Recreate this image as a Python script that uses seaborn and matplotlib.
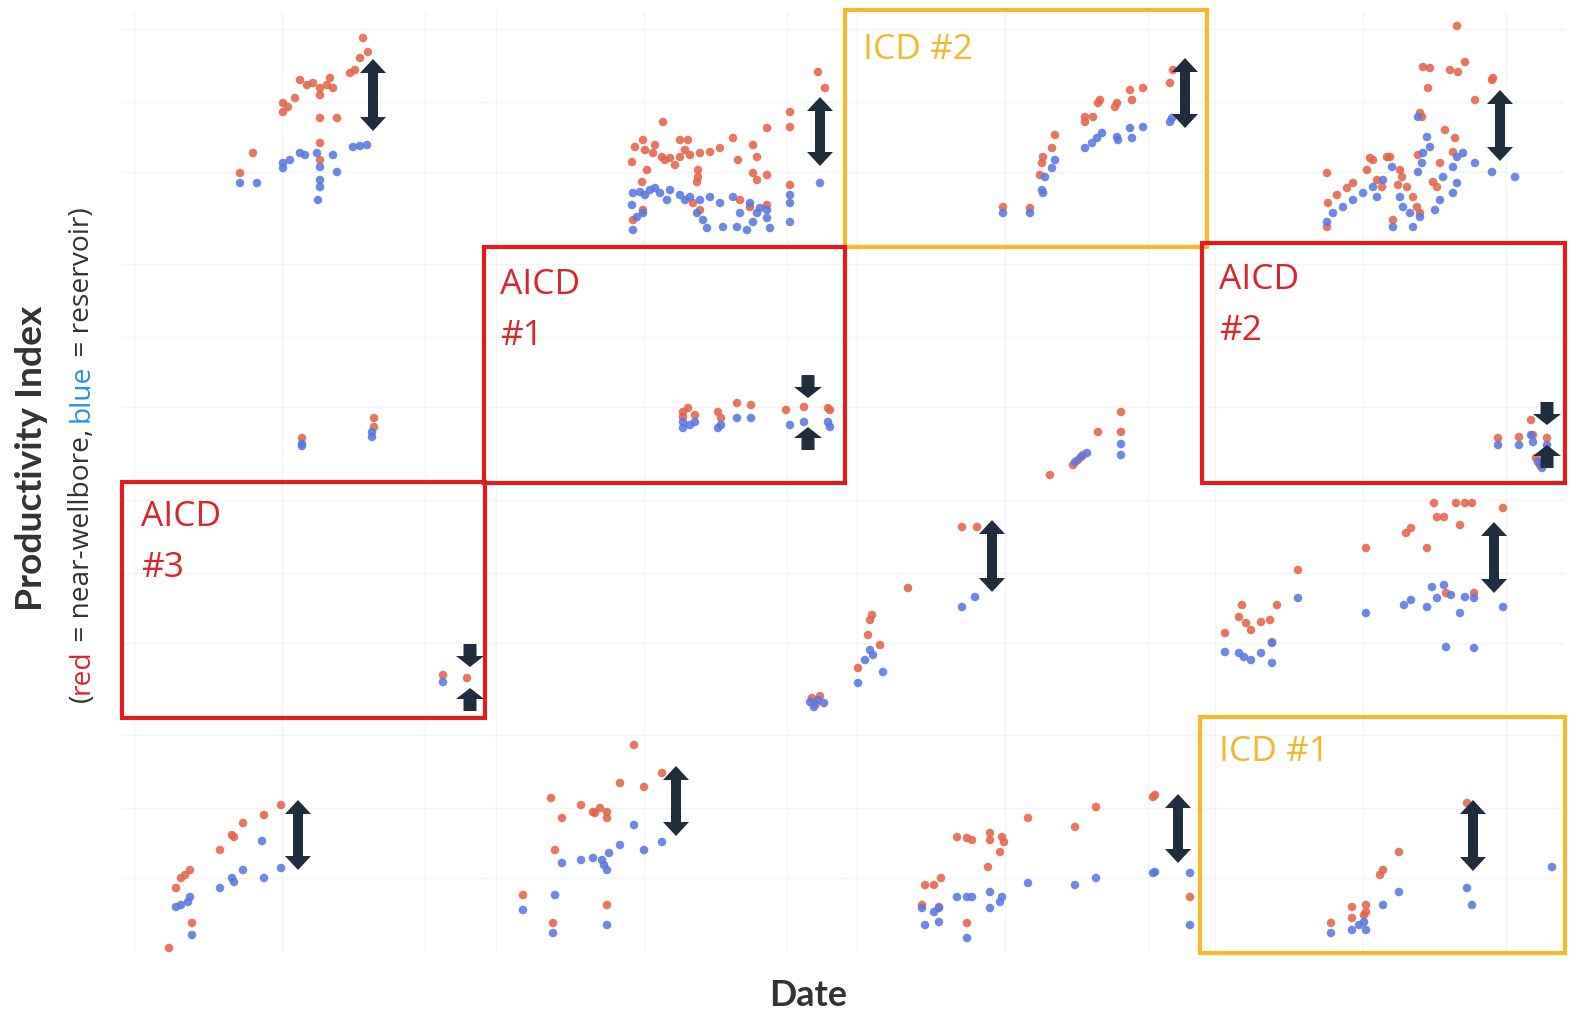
import matplotlib
matplotlib.use("Agg")
import matplotlib.pyplot as plt
from matplotlib.patches import Polygon, Rectangle
import pandas as pd
import seaborn as sns

# ---- measured productivity index per well (x = date index, y = PI units) ----
# row 0
P00_RED = [(241,209),(246,195),(238,189),(233,177),(228,174),(178,167),(191,164),(198,159),(208,169),
           (211,159),(161,144),(173,149),(161,135),(198,152),(198,129),(215,129),(198,104),(131,94),
           (118,74),(198,87),(166,140),(185,162),(205,162)]
P00_BLUE = [(118,64),(135,64),(161,84),(178,94),(195,94),(211,92),(198,80),(198,67),(198,60),(196,47),
            (215,75),(231,100),(245,102),(161,79),(168,87),(183,92),(238,101)]
P01_RED = [(334,175),(341,159),(306,135),(306,120),(283,119),(249,109),(269,102),(236,99),(273,90),
           (254,87),(179,125),(196,107),(204,107),(159,107),(151,100),(148,85),(169,94),(178,90),
           (186,89),(196,90),(206,92),(216,94),(226,95),(163,77),(214,77),(214,70),(213,65),(269,74),
           (273,67),(283,72),(158,65),(306,62),(209,44),(216,37),(256,47),(266,40),(283,42),(149,27),
           (159,37),(161,97),(171,102),(181,87),(191,82),(201,97)]
P01_BLUE = [(336,64),(306,52),(306,44),(306,25),(283,37),(283,29),(286,19),(149,54),(156,55),(166,57),
            (176,54),(183,47),(196,52),(206,50),(216,47),(226,50),(148,42),(153,30),(159,34),(149,17),
            (213,34),(219,27),(223,19),(236,44),(249,50),(239,20),(253,20),(263,17),(269,25),(273,34),
            (276,39),(256,34),(266,44),(161,52),(171,59),(186,57),(201,47)]
P02_RED = [(328,177),(325,164),(298,159),(285,157),(287,147),(272,144),(270,140),(255,147),(253,144),
           (248,130),(240,130),(240,125),(210,112),(207,99),(198,90),(197,84),(195,72),(158,40),(185,39)]
P02_BLUE = [(327,129),(325,125),(298,120),(285,119),(287,109),(272,110),(273,107),(257,114),(252,109),
            (247,104),(240,99),(210,87),(207,79),(200,70),(197,57),(198,54),(158,34),(185,34)]
P03_RED = [(254,221),(262,185),(255,175),(247,177),(220,180),(227,179),(225,159),(289,167),(290,169),
           (272,147),(217,134),(219,130),(242,117),(252,109),(215,92),(250,95),(237,84),(124,74),
           (167,89),(170,87),(184,90),(187,90),(164,77),(150,64),(144,59),(134,52),(125,44),(197,77),
           (199,70),(195,62),(204,60),(210,50),(214,40),(217,34),(190,27),(124,20),(230,65),(234,60),
           (174,67),(179,60)]
P03_BLUE = [(312,70),(289,75),(272,84),(260,94),(254,90),(250,80),(224,110),(227,100),(220,94),(219,84),
            (215,75),(215,130),(254,64),(250,54),(240,70),(237,47),(232,37),(189,80),(180,67),(170,60),
            (160,54),(150,47),(140,40),(130,34),(124,25),(197,50),(200,40),(207,34),(210,20),(190,20),
            (217,30),(174,50)]
# row 1
P10_RED = [(180,44),(252,64),(252,55)]
P10_BLUE = [(180,36),(180,38),(250,50),(250,45)]
P11_RED = [(199,70),(204,74),(211,67),(234,70),(237,64),(253,79),(267,77),(302,72),(320,75),(344,74),
           (346,72),(199,65)]
P11_BLUE = [(199,54),(206,57),(211,60),(234,54),(237,57),(253,64),(267,64),(306,57),(320,60),(344,60),
            (346,55),(199,60)]
P12_RED = [(205,7),(228,17),(233,22),(238,27),(253,50),(276,70),(276,50)]
P12_BLUE = [(230,20),(236,25),(242,29),(276,38),(276,27)]
P13_RED = [(328,62),(295,44),(316,45),(330,47),(344,44),(333,24),(337,17)]
P13_BLUE = [(295,37),(316,37),(328,47),(330,40),(344,37),(339,14),(335,20)]
# row 2
P20_RED = [(321,43),(345,40)]
P20_BLUE = [(321,36)]
P21_RED = [(328,20),(336,22),(332,14)]
P21_BLUE = [(326,16),(334,18),(340,15),(330,11)]
P22_RED = [(117,191),(132,191),(63,130),(27,103),(25,98),(23,83),(35,73),(13,50)]
P22_BLUE = [(117,111),(130,121),(25,68),(20,58),(38,46),(13,35),(28,63)]
P23_RED = [(231,215),(253,215),(262,215),(269,215),(300,210),(234,201),(241,201),(257,193),(203,185),
           (208,190),(224,170),(163,170),(95,148),(39,113),(22,85),(36,101),(43,95),(48,88),(58,96),
           (67,98),(74,113),(69,76),(243,125),(271,125)]
P23_BLUE = [(95,120),(163,105),(201,113),(208,118),(224,111),(229,131),(241,133),(234,120),(248,123),
            (262,121),(271,120),(257,105),(300,111),(243,71),(271,70),(22,66),(36,65),(41,61),(48,58),
            (58,65),(69,55),(69,75)]
# row 3
P30_RED = [(159,148),(142,138),(121,130),(112,116),(110,118),(98,103),(68,83),(63,78),(59,75),(54,65),
           (70,30),(47,5)]
P30_BLUE = [(159,85),(142,75),(140,112),(121,83),(112,71),(110,75),(98,65),(68,56),(66,51),(59,48),
            (54,46),(70,18)]
P31_RED = [(150,208),(178,180),(136,170),(160,166),(67,155),(97,148),(109,141),(116,145),(123,141),
           (123,135),(111,140),(78,135),(71,103),(39,58),(69,30),(123,48)]
P31_BLUE = [(150,128),(178,111),(136,108),(160,103),(125,100),(118,93),(120,88),(123,83),(109,95),
            (97,93),(78,90),(71,58),(39,43),(69,20),(123,28)]
P32_RED = [(310,158),(308,156),(251,146),(230,126),(183,135),(112,116),(122,115),(127,113),(145,120),
           (145,113),(157,116),(159,111),(155,101),(143,86),(96,75),(89,68),(80,68),(77,48),(94,46),
           (122,30),(345,56)]
P32_BLUE = [(310,81),(308,80),(251,75),(230,68),(183,70),(112,56),(122,56),(127,56),(145,61),(145,45),
            (157,56),(155,51),(77,45),(89,41),(94,45),(80,28),(94,31),(122,15),(345,80),(345,28)]
P33_RED = [(264,150),(269,113),(196,101),(180,83),(177,78),(163,48),(149,46),(149,35),(161,38),(163,41),
           (128,30)]
P33_BLUE = [(349,86),(264,65),(269,48),(196,61),(180,48),(161,31),(163,23),(149,23),(128,20),(156,28)]

# gap markers: (row, col, x, upper tip, lower tip)
GAP_ARROWS = [(0,0,251,188,116),(0,1,336,150,81),(0,2,340,189,119),(0,3,297,157,86),
              (2,2,147,198,126),(2,3,291,196,125),(3,0,176,153,83),(3,1,192,187,117),
              (3,2,333,159,90),(3,3,270,153,82)]
# converging markers for AICD wells: (row, col, x, tip of down arrow, tip of up arrow)
PINCH_ARROWS = [(1,1,324,84,55),(1,3,344,57,37),(2,0,348,51,30)]

RED = "#e2654d"
BLUE = "#5b78df"
ARROW = "#1f2d3c"
BOX_RED = "#e31b1e"
BOX_GOLD = "#f4bc2c"
TXT_RED = "#d9262b"
TXT_GOLD = "#f0b92f"
LABEL_DARK = "#333333"

W, H = 1577, 1011
COL_LEFT = [122, 484, 845, 1203]
COL_W = [362, 361, 358, 362]
ROW_TOP = [12, 247, 482, 718]
ROW_H = [235, 235, 236, 235]
GRID_X = [12, 160, 303]
GRID_Y = [75, 145, 218]

PANELS = {
    (0, 0): (P00_RED, P00_BLUE), (0, 1): (P01_RED, P01_BLUE), (0, 2): (P02_RED, P02_BLUE), (0, 3): (P03_RED, P03_BLUE),
    (1, 0): (P10_RED, P10_BLUE), (1, 1): (P11_RED, P11_BLUE), (1, 2): (P12_RED, P12_BLUE), (1, 3): (P13_RED, P13_BLUE),
    (2, 0): (P20_RED, P20_BLUE), (2, 1): (P21_RED, P21_BLUE), (2, 2): (P22_RED, P22_BLUE), (2, 3): (P23_RED, P23_BLUE),
    (3, 0): (P30_RED, P30_BLUE), (3, 1): (P31_RED, P31_BLUE), (3, 2): (P32_RED, P32_BLUE), (3, 3): (P33_RED, P33_BLUE),
}

sns.set_theme(style="white")
plt.rcParams["font.family"] = ["Open Sans", "DejaVu Sans"]

fig = plt.figure(figsize=(W / 100, H / 100), dpi=100)
fig.patch.set_facecolor("white")

axes = {}
for (r, c), (red, blue) in PANELS.items():
    ax = fig.add_axes([COL_LEFT[c] / W, 1 - (ROW_TOP[r] + ROW_H[r]) / H, COL_W[c] / W, ROW_H[r] / H])
    rows = [(x, y, "near-wellbore") for x, y in red] + [(x, y, "reservoir") for x, y in blue]
    df = pd.DataFrame(rows, columns=["date", "pi", "kind"])
    sns.scatterplot(data=df, x="date", y="pi", hue="kind", hue_order=["near-wellbore", "reservoir"],
                    palette=[RED, BLUE], s=38, linewidth=0, alpha=0.88, legend=False, ax=ax)
    ax.set_xlim(0, COL_W[c])
    ax.set_ylim(0, ROW_H[r])
    ax.set_xticks(GRID_X)
    ax.set_yticks(GRID_Y)
    ax.grid(True, color="#f4f4f4", lw=1.0)
    ax.tick_params(length=0, labelbottom=False, labelleft=False)
    ax.set_xlabel("")
    ax.set_ylabel("")
    ax.patch.set_alpha(0)
    for s in ax.spines.values():
        s.set_visible(False)
    axes[(r, c)] = ax


def double_arrow(ax, x, top, bottom, hw=26, hl=14, sw=10):
    verts = [(x, top), (x + hw / 2, top - hl), (x + sw / 2, top - hl), (x + sw / 2, bottom + hl),
             (x + hw / 2, bottom + hl), (x, bottom), (x - hw / 2, bottom + hl), (x - sw / 2, bottom + hl),
             (x - sw / 2, top - hl), (x - hw / 2, top - hl)]
    ax.add_patch(Polygon(verts, closed=True, facecolor=ARROW, edgecolor="none", zorder=5, clip_on=False))


def block_arrow(ax, x, tip, direction, hw=28, hl=11, sw=13, sl=12):
    d = 1 if direction == "up" else -1
    base = tip - d * (hl + sl)
    neck = tip - d * hl
    verts = [(x, tip), (x + hw / 2, neck), (x + sw / 2, neck), (x + sw / 2, base),
             (x - sw / 2, base), (x - sw / 2, neck), (x - hw / 2, neck)]
    ax.add_patch(Polygon(verts, closed=True, facecolor=ARROW, edgecolor="none", zorder=5, clip_on=False))


for r, c, x, top, bottom in GAP_ARROWS:
    double_arrow(axes[(r, c)], x, top, bottom)
for r, c, x, down_tip, up_tip in PINCH_ARROWS:
    block_arrow(axes[(r, c)], x, down_tip, "down")
    block_arrow(axes[(r, c)], x, up_tip, "up")

# overlay in pixel units for completion-type frames and axis titles
ov = fig.add_axes([0, 0, 1, 1], zorder=10)
ov.set_xlim(0, W)
ov.set_ylim(H, 0)
ov.axis("off")
ov.patch.set_alpha(0)

FRAMES = [
    (845, 10, 1207, 247, BOX_GOLD, ["ICD #2"], TXT_GOLD, (863, 50)),
    (484, 247, 845, 483, BOX_RED, ["AICD", "#1"], TXT_RED, (500, 285)),
    (1202, 243, 1565, 483, BOX_RED, ["AICD", "#2"], TXT_RED, (1219, 280)),
    (122, 482, 485, 718, BOX_RED, ["AICD", "#3"], TXT_RED, (141, 517)),
    (1200, 717, 1565, 953, BOX_GOLD, ["ICD #1"], TXT_GOLD, (1219, 752)),
]

renderer = fig.canvas.get_renderer()


def fitted_size(text, target_px, **kw):
    t = ov.text(0, 0, text, fontsize=20, **kw)
    w = t.get_window_extent(renderer).width
    t.remove()
    return 20 * target_px / w


box_fs = fitted_size("AICD", 80)
for x0, y0, x1, y1, ec, lines, tc, (tx, ty) in FRAMES:
    ov.add_patch(Rectangle((x0, y0), x1 - x0, y1 - y0, fill=False, edgecolor=ec, lw=3.0, zorder=12))
    for i, line in enumerate(lines):
        ov.text(tx, ty + 51 * i, line, color=tc, fontsize=box_fs, ha="left", va="center", zorder=13)

# axis titles
title_fs = fitted_size("Productivity Index", 307, fontweight="bold", family=["Lato", "DejaVu Sans"])
ov.text(32, 458, "Productivity Index", rotation=90, ha="center", va="center", fontsize=title_fs,
        fontweight="bold", color=LABEL_DARK, family=["Lato", "DejaVu Sans"])
date_fs = fitted_size("Date", 78, fontweight="bold", family=["Lato", "DejaVu Sans"])
ov.text(808, 995, "Date", ha="center", va="center", fontsize=date_fs, fontweight="bold",
        color=LABEL_DARK, family=["Lato", "DejaVu Sans"])

pieces = [("(", LABEL_DARK), ("red", TXT_RED), (" = near-wellbore, ", LABEL_DARK),
          ("blue", "#2b8fdc"), (" = reservoir)", LABEL_DARK)]
full = "".join(p for p, _ in pieces)
sub_fs = fitted_size(full, 495)


def text_len(s):
    t = ov.text(0, 0, s + "|", fontsize=sub_fs)
    t2 = ov.text(0, 0, "|", fontsize=sub_fs)
    w = t.get_window_extent(renderer).width - t2.get_window_extent(renderer).width
    t.remove()
    t2.remove()
    return w


y = 702
for s, col in pieces:
    ov.text(82, y, s, rotation=90, ha="center", va="bottom", fontsize=sub_fs, color=col)
    y -= text_len(s)

fig.savefig("out.png", dpi=100, facecolor="white")
